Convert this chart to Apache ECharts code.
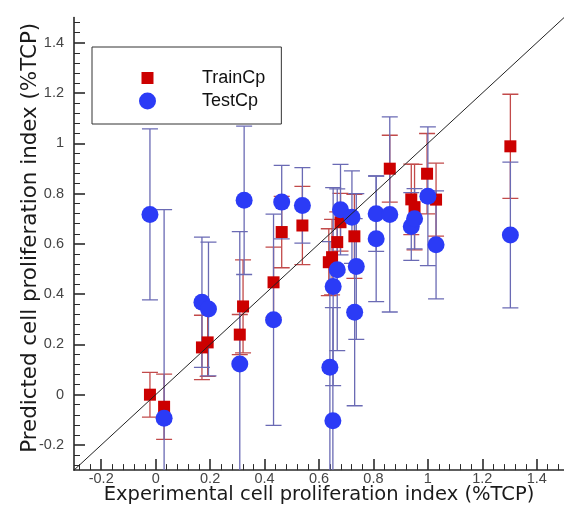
<!DOCTYPE html>
<html>
<head>
<meta charset="utf-8">
<script src="https://cdn.jsdelivr.net/npm/echarts@6/dist/echarts.min.js"></script>
<style>
  html, body { margin: 0; padding: 0; background: #ffffff; }
  #chart { width: 564px; height: 515px; }
</style>
</head>
<body>
<div id="chart"></div>
<script>
// Training set: experimental index, predicted index, error half-width
const trainX   = [-0.021, 0.031, 0.170, 0.191, 0.309, 0.321, 0.433, 0.463, 0.539, 0.636,
                  0.648, 0.667, 0.679, 0.730, 0.860, 0.939, 0.951, 0.997, 1.030, 1.303];
const trainY   = [0.000, -0.048, 0.188, 0.208, 0.239, 0.351, 0.447, 0.647, 0.673, 0.527,
                  0.547, 0.607, 0.686, 0.630, 0.899, 0.777, 0.746, 0.879, 0.776, 0.988];
const trainErr = [0.089, 0.130, 0.128, 0.135, 0.080, 0.185, 0.140, 0.142, 0.156, 0.133,
                  0.150, 0.120, 0.115, 0.167, 0.133, 0.140, 0.170, 0.160, 0.145, 0.207];

// Test set
const testX   = [-0.021, 0.031, 0.170, 0.194, 0.309, 0.325, 0.433, 0.463, 0.539, 0.640,
                 0.651, 0.652, 0.667, 0.679, 0.721, 0.731, 0.737, 0.810, 0.810, 0.860,
                 0.939, 0.951, 1.000, 1.030, 1.303];
const testY   = [0.717, -0.094, 0.368, 0.341, 0.122, 0.773, 0.298, 0.766, 0.753, 0.109,
                 -0.104, 0.430, 0.497, 0.736, 0.706, 0.328, 0.510, 0.720, 0.620, 0.717,
                 0.669, 0.700, 0.789, 0.596, 0.635];
const testErr = [0.340, 0.830, 0.259, 0.266, 0.527, 0.295, 0.420, 0.146, 0.150, 0.500,
                 0.450, 0.394, 0.322, 0.180, 0.184, 0.372, 0.290, 0.150, 0.250, 0.388,
                 0.135, 0.120, 0.276, 0.215, 0.290];

// Axis range and tick labels (shared by both axes)
const axisMin = -0.3;
const axisMax = 1.5;
const majorTicks = [-0.2, 0, 0.2, 0.4, 0.6, 0.8, 1, 1.2, 1.4];
const minorStep = 0.04;

const minorTicks = [];
for (let k = Math.ceil(axisMin / minorStep); k * minorStep <= axisMax + 1e-9; k++) {
  if (k % 5 !== 0) minorTicks.push(+(k * minorStep).toFixed(2));
}

const points = (xs, ys) => xs.map((x, i) => [x, ys[i]]);
const withErr = (xs, ys, es) => xs.map((x, i) => [x, ys[i], es[i]]);

const FONT = '"Liberation Sans", Arial, sans-serif';
const TITLE_FONT = '"DejaVu Sans", Verdana, sans-serif';

function errorBar(color) {
  return function (params, api) {
    const x = api.value(0), y = api.value(1), e = api.value(2);
    const hi = api.coord([x, y + e]);
    const lo = api.coord([x, y - e]);
    const cap = 8;
    const style = { stroke: color, lineWidth: 1.3 };
    return {
      type: 'group',
      children: [
        { type: 'line', shape: { x1: hi[0], y1: hi[1], x2: lo[0], y2: lo[1] }, style },
        { type: 'line', shape: { x1: hi[0] - cap, y1: hi[1], x2: hi[0] + cap, y2: hi[1] }, style },
        { type: 'line', shape: { x1: lo[0] - cap, y1: lo[1], x2: lo[0] + cap, y2: lo[1] }, style }
      ]
    };
  };
}

function valueAxis(isX, ticks, tickLen, main) {
  const ax = {
    type: 'value',
    min: axisMin,
    max: axisMax,
    position: isX ? 'bottom' : 'left',
    splitLine: { show: false },
    axisLine: { show: main, onZero: false, lineStyle: { color: '#2a2a2a', width: 1.6 } },
    axisTick: { show: true, inside: true, length: tickLen, customValues: ticks,
                lineStyle: { color: '#2a2a2a', width: main ? 1.6 : 1 } },
    axisLabel: main
      ? { show: true, customValues: majorTicks, color: '#444', fontFamily: FONT, fontSize: 14.5,
          margin: isX ? 1 : 10, formatter: v => String(+v.toFixed(1)) }
      : { show: false }
  };
  if (main) {
    ax.name = isX ? 'Experimental cell proliferation index (%TCP)'
                  : 'Predicted cell proliferation index (%TCP)';
    ax.nameLocation = 'middle';
    ax.nameMoveOverlap = false;
    ax.nameGap = isX ? 15 : 33;
    ax.nameTextStyle = isX
      ? { color: '#1a1a1a', fontFamily: TITLE_FONT, fontSize: 19.5, verticalAlign: 'top' }
      : { color: '#1a1a1a', fontFamily: TITLE_FONT, fontSize: 21.4, verticalAlign: 'bottom',
          padding: [0, 0, 0, 12] };
  }
  return ax;
}

const chart = echarts.init(document.getElementById('chart'), null, { renderer: 'canvas' });

chart.setOption({
  animation: false,
  backgroundColor: '#ffffff',
  grid: { left: 74, top: 17.6, width: 495, height: 452.5, containLabel: false },
  xAxis: [valueAxis(true, majorTicks, 11, true), valueAxis(true, minorTicks, 6, false)],
  yAxis: [valueAxis(false, majorTicks, 11, true), valueAxis(false, minorTicks, 6, false)],
  legend: {
    orient: 'vertical',
    left: 92,
    top: 47,
    padding: [22, 16, 14, 47],
    itemWidth: 17,
    itemHeight: 17,
    itemGap: 5,
    borderColor: '#333',
    borderWidth: 1,
    backgroundColor: '#ffffff',
    textStyle: { color: '#111', fontFamily: FONT, fontSize: 18, lineHeight: 17, padding: [0, 0, 0, 41] },
    data: [
      { name: 'TrainCp', icon: 'path://M2.5,2.5h12v12h-12z M0,0h0.01z M17,17h0.01z' },
      { name: 'TestCp', icon: 'circle' }
    ]
  },
  series: [
    {
      name: 'TrainErr', type: 'custom', clip: true, xAxisIndex: 0, yAxisIndex: 0,
      renderItem: errorBar('#c24a4a'),
      data: withErr(trainX, trainY, trainErr), z: 2
    },
    {
      name: 'TestErr', type: 'custom', clip: true, xAxisIndex: 0, yAxisIndex: 0,
      renderItem: errorBar('#6a6ab4'),
      data: withErr(testX, testY, testErr), z: 3
    },
    {
      name: 'TrainCp', type: 'scatter', symbol: 'rect', symbolSize: 12,
      itemStyle: { color: '#cc0000', opacity: 1 },
      data: points(trainX, trainY), z: 4
    },
    {
      name: 'TestCp', type: 'scatter', symbol: 'circle', symbolSize: 17,
      itemStyle: { color: '#2b3bf6', opacity: 1 },
      data: points(testX, testY), z: 5
    },
    {
      name: 'y = x', type: 'line', symbol: 'none', silent: true,
      lineStyle: { color: '#222', width: 1 },
      data: [[axisMin, axisMin], [axisMax, axisMax]], z: 6
    }
  ]
});
</script>
</body>
</html>
